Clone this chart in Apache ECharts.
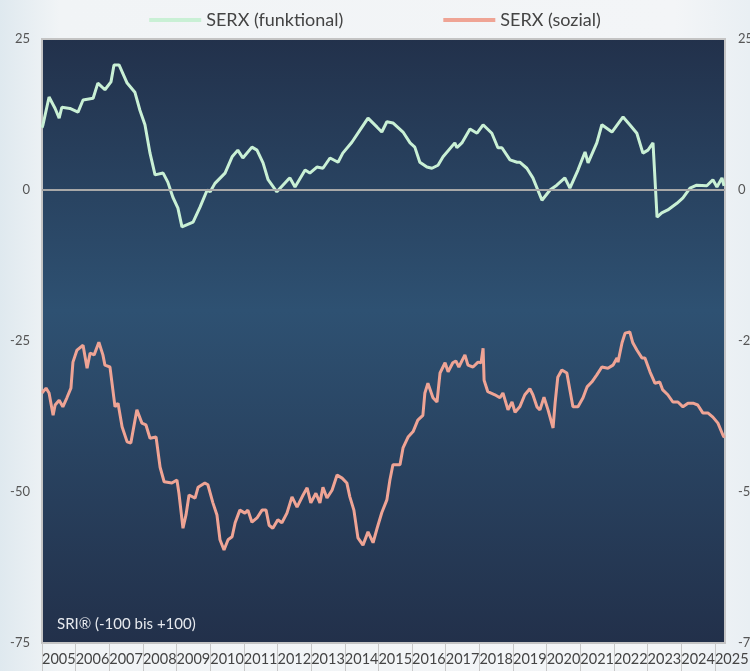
<!DOCTYPE html>
<html>
<head>
<meta charset="utf-8">
<script src="https://cdn.jsdelivr.net/npm/echarts@6/dist/echarts.min.js"></script>
<style>
html,body{margin:0;padding:0;background:#eef2f5;}
#chart{width:750px;height:671px;}
</style>
</head>
<body>
<div id="chart"></div>
<script>
// Series names
var seriesNames = ['SERX (funktional)', 'SERX (sozial)'];

// SERX (funktional): decimal year / value
var funcYears = [2005.00,2005.03,2005.21,2005.39,2005.51,2005.59,2005.83,2006.07,2006.22,2006.52,2006.66,2006.87,2007.05,2007.14,2007.29,2007.53,2007.76,2007.91,2008.06,2008.21,2008.36,2008.60,2008.74,2008.89,2009.04,2009.16,2009.49,2009.70,2009.91,2010.00,2010.14,2010.44,2010.65,2010.82,2010.97,2011.24,2011.39,2011.57,2011.72,2011.98,2012.31,2012.37,2012.52,2012.82,2012.96,2013.17,2013.35,2013.56,2013.80,2013.94,2014.21,2014.45,2014.69,2014.96,2015.10,2015.25,2015.43,2015.73,2015.94,2016.08,2016.23,2016.44,2016.59,2016.77,2016.92,2017.27,2017.33,2017.48,2017.72,2017.93,2018.11,2018.37,2018.55,2018.67,2018.91,2019.12,2019.20,2019.41,2019.59,2019.86,2020.10,2020.30,2020.54,2020.69,2020.93,2021.14,2021.23,2021.49,2021.64,2021.94,2022.27,2022.47,2022.68,2022.86,2023.01,2023.16,2023.22,2023.28,2023.42,2023.60,2023.87,2024.05,2024.26,2024.46,2024.76,2024.94,2025.06,2025.21,2025.27];
var funcValues = [10.3,10.8,15.4,13.5,11.9,13.7,13.5,12.9,14.9,15.2,17.7,16.6,17.9,20.7,20.7,17.7,16.2,13.2,10.8,6.1,2.5,2.8,1.3,-1.2,-3.0,-6.1,-5.3,-2.8,0.0,-0.3,1.1,2.8,5.5,6.6,5.3,7.1,6.6,4.5,1.7,-0.3,1.7,2.0,0.5,3.3,2.8,3.8,3.6,5.3,4.6,6.1,7.9,9.9,11.9,10.4,9.6,11.3,11.1,9.6,7.8,7.1,4.6,3.8,3.6,4.1,5.5,7.8,7.0,7.8,10.1,9.4,10.8,9.4,7.0,7.0,5.0,4.6,4.6,3.6,2.0,-1.7,0.0,0.8,2.0,0.3,3.3,6.3,4.5,7.8,10.8,9.6,12.1,10.8,9.4,6.1,6.6,7.8,1.7,-4.5,-3.8,-3.3,-2.2,-1.3,0.3,0.8,0.7,1.7,0.5,2.0,0.7];

// SERX (sozial): decimal year / value
var socYears = [2005.00,2005.12,2005.21,2005.33,2005.39,2005.51,2005.62,2005.74,2005.86,2005.92,2006.04,2006.22,2006.34,2006.43,2006.55,2006.69,2006.81,2006.87,2007.02,2007.17,2007.26,2007.38,2007.53,2007.64,2007.82,2007.97,2008.09,2008.21,2008.39,2008.51,2008.63,2008.86,2009.01,2009.07,2009.19,2009.28,2009.37,2009.55,2009.64,2009.84,2009.93,2010.08,2010.20,2010.29,2010.41,2010.53,2010.65,2010.74,2010.88,2011.03,2011.12,2011.24,2011.39,2011.54,2011.66,2011.75,2011.86,2012.01,2012.13,2012.28,2012.43,2012.58,2012.76,2012.88,2012.99,2013.14,2013.26,2013.35,2013.47,2013.62,2013.77,2013.92,2014.06,2014.15,2014.27,2014.39,2014.54,2014.69,2014.84,2014.96,2015.10,2015.25,2015.34,2015.43,2015.64,2015.73,2015.88,2016.03,2016.17,2016.32,2016.38,2016.47,2016.62,2016.74,2016.83,2016.98,2017.07,2017.21,2017.30,2017.39,2017.57,2017.66,2017.81,2017.96,2018.05,2018.11,2018.14,2018.25,2018.46,2018.61,2018.70,2018.85,2018.97,2019.06,2019.20,2019.35,2019.50,2019.59,2019.71,2019.80,2019.92,2020.04,2020.19,2020.25,2020.33,2020.45,2020.60,2020.69,2020.78,2020.93,2021.08,2021.20,2021.34,2021.49,2021.64,2021.82,2021.97,2022.09,2022.12,2022.24,2022.33,2022.47,2022.56,2022.68,2022.83,2022.92,2023.07,2023.22,2023.36,2023.45,2023.60,2023.75,2023.90,2024.05,2024.20,2024.35,2024.49,2024.64,2024.79,2024.94,2025.09,2025.24,2025.28];
var socValues = [-33.6,-32.8,-33.6,-37.3,-35.6,-34.8,-35.9,-34.4,-32.8,-28.5,-26.5,-25.7,-29.5,-27.0,-27.3,-25.2,-27.3,-29.0,-29.3,-35.9,-35.3,-39.2,-41.7,-41.9,-36.4,-38.6,-38.9,-41.1,-40.9,-45.9,-48.3,-48.5,-48.0,-50.2,-56.0,-53.8,-50.5,-51.0,-49.2,-48.5,-48.8,-51.8,-53.8,-57.9,-59.6,-57.9,-57.4,-55.1,-53.0,-53.5,-53.0,-55.0,-54.3,-53.0,-53.0,-55.5,-56.0,-54.6,-55.1,-53.5,-50.8,-52.5,-50.5,-49.3,-51.8,-50.2,-51.8,-49.2,-51.0,-49.7,-47.2,-47.7,-48.5,-50.8,-53.0,-57.6,-58.8,-56.6,-58.4,-56.0,-53.4,-51.3,-48.0,-45.5,-45.5,-42.7,-40.9,-40.0,-38.1,-37.3,-33.6,-32.0,-34.4,-35.1,-30.3,-28.6,-30.1,-28.6,-28.3,-29.3,-27.3,-29.0,-29.3,-28.5,-28.6,-26.2,-31.5,-33.4,-33.9,-34.4,-33.6,-36.4,-35.1,-36.8,-35.9,-33.9,-32.9,-33.9,-35.9,-36.4,-34.3,-36.4,-39.4,-35.3,-31.0,-29.8,-30.3,-33.1,-35.9,-35.9,-34.4,-32.6,-31.8,-30.6,-29.3,-29.5,-29.0,-27.8,-28.5,-25.3,-23.7,-23.5,-25.3,-26.5,-27.8,-27.8,-30.1,-32.0,-31.8,-33.1,-33.9,-35.1,-35.1,-35.9,-35.3,-35.3,-35.6,-36.9,-36.9,-37.6,-38.6,-40.6,-41.0];

// Axis tick values
var yTicks = [-75, -50, -25, 0, 25];
var xStartYear = 2005;
var xEndYear = 2025.3;

function pairs(xs, ys) {
  var out = [];
  for (var i = 0; i < xs.length; i++) out.push([xs[i], ys[i]]);
  return out;
}

var chart = echarts.init(document.getElementById('chart'), null, {renderer: 'canvas'});
var fontFam = 'Lato, "Noto Sans", sans-serif';

var yAxisCommon = {
  type: 'value',
  min: yTicks[0],
  max: yTicks[yTicks.length - 1],
  interval: 25,
  axisLine: {show: false},
  axisTick: {show: false},
  splitLine: {show: false},
  axisLabel: {color: '#555', fontSize: 13, fontFamily: fontFam}
};

chart.setOption({
  backgroundColor: {
    type: 'linear', x: 0, y: 0, x2: 1, y2: 0,
    colorStops: [{offset: 0, color: '#dfe9ef'}, {offset: 0.08, color: '#f1f4f6'}, {offset: 0.9, color: '#f3f5f7'}, {offset: 1, color: '#e9eff3'}]
  },
  animation: false,
  legend: {
    top: 6,
    left: 'center',
    itemWidth: 52,
    itemHeight: 4,
    itemGap: 100,
    icon: 'rect',
    textStyle: {color: '#444', fontSize: 18, fontFamily: fontFam},
    data: seriesNames
  },
  grid: {
    left: 42, right: 25, top: 39, bottom: 28,
    outerBoundsMode: 'none',
    containLabel: false,
    show: true,
    borderColor: '#c4c4c4',
    borderWidth: 2,
    backgroundColor: {
      type: 'linear', x: 0, y: 0, x2: 0, y2: 1,
      colorStops: [
        {offset: 0, color: '#22314b'},
        {offset: 0.45, color: '#2e5172'},
        {offset: 1, color: '#22304a'}
      ]
    }
  },
  xAxis: {
    type: 'value',
    position: 'bottom',
    min: xStartYear,
    max: xEndYear,
    interval: 1,
    axisLine: {show: false, onZero: false},
    splitLine: {show: false},
    axisTick: {show: true, length: 30, lineStyle: {color: '#c8c8c8', width: 1}},
    axisLabel: {
      showMinLabel: true,
      showMaxLabel: false,
      hideOverlap: false,
      align: 'left',
      margin: 9,
      color: '#444',
      fontSize: 14.5,
      fontFamily: fontFam,
      formatter: function (v) { return String(Math.round(v)); }
    }
  },
  yAxis: [
    Object.assign({}, yAxisCommon, {position: 'left', axisLabel: Object.assign({}, yAxisCommon.axisLabel, {margin: 12})}),
    Object.assign({}, yAxisCommon, {position: 'right', axisLabel: Object.assign({}, yAxisCommon.axisLabel, {margin: 13})})
  ],
  graphic: [{
    type: 'text',
    left: 57,
    top: 617,
    style: {text: 'SRI® (-100 bis +100)', fill: '#e6e9ee', fontSize: 15, fontFamily: fontFam}
  }],
  series: [
    {
      name: seriesNames[0],
      type: 'line',
      data: pairs(funcYears, funcValues),
      showSymbol: false,
      color: '#c9f0d5',
      lineStyle: {width: 3, color: '#c9f0d5'},
      markLine: {
        silent: true,
        symbol: 'none',
        label: {show: false},
        lineStyle: {color: '#a8a8a8', width: 2, type: 'solid'},
        data: [{yAxis: 0}]
      },
      z: 3
    },
    {
      name: seriesNames[1],
      type: 'line',
      data: pairs(socYears, socValues),
      showSymbol: false,
      color: '#efa495',
      lineStyle: {width: 3, color: '#efa495'},
      z: 3
    }
  ]
});
</script>
</body>
</html>
